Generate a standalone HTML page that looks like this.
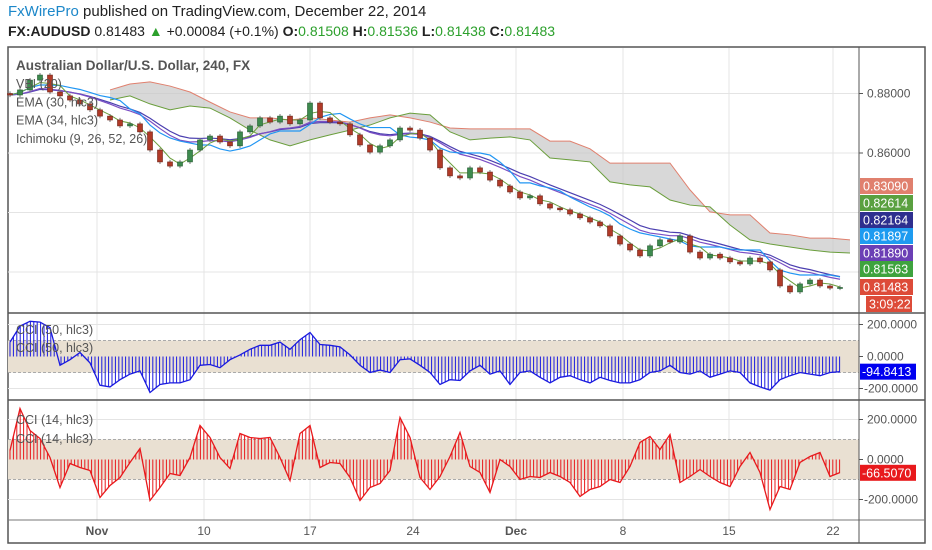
<!DOCTYPE html>
<html><head><meta charset="utf-8">
<style>
html,body{margin:0;padding:0;background:#fff;width:932px;height:550px;overflow:hidden;font-family:"Liberation Sans",sans-serif;}
#hdr1{position:absolute;left:8px;top:3px;font-size:15px;color:#222;}
#hdr1 .b{color:#1c87c9;}
#hdr2{position:absolute;left:8px;top:23px;font-size:14px;color:#222;}
#hdr2 b{font-weight:bold;}
#hdr2 .g{color:#2ca02c;}
svg{position:absolute;left:0;top:0;}
</style></head><body>
<div id="hdr1"><span class="b">FxWirePro</span> published on TradingView.com, December 22, 2014</div>
<div id="hdr2"><b>FX:AUDUSD</b> 0.81483 <span class="g">▲</span> +0.00084 (+0.1%) <b>O:</b><span class="g">0.81508</span> <b>H:</b><span class="g">0.81536</span> <b>L:</b><span class="g">0.81438</span> <b>C:</b><span class="g">0.81483</span></div>
<svg id="chart" width="932" height="550" xmlns="http://www.w3.org/2000/svg"></svg>
<script>
const closes=[0.8795,0.8812,0.8845,0.8862,0.8805,0.8792,0.8778,0.8765,0.8745,0.8724,
0.8711,0.8691,0.8698,0.8671,0.8610,0.8570,0.8556,0.8570,0.8610,0.8644,
0.8657,0.8637,0.8624,0.8671,0.8691,0.8718,0.8704,0.8724,0.8698,0.8711,
0.8768,0.8718,0.8704,0.8698,0.8661,0.8627,0.8603,0.8624,0.8644,0.8684,
0.8677,0.8650,0.8610,0.8550,0.8523,0.8516,0.8550,0.8536,0.8509,0.8489,
0.8469,0.8449,0.8456,0.8429,0.8415,0.8409,0.8395,0.8382,0.8368,0.8355,
0.8321,0.8294,0.8274,0.8254,0.8288,0.8308,0.8301,0.8321,0.8267,0.8247,
0.8260,0.8247,0.8234,0.8227,0.8247,0.8234,0.8207,0.8153,0.8133,0.8160,
0.8173,0.8153,0.8146,0.8148];
const spanB=[0.8812,0.8832,0.8839,0.8825,0.8805,0.8771,0.8738,0.8718,0.8718,0.8711,0.8718,0.8711,0.8704,0.8718,0.8728,0.8718,0.8704,0.8684,0.8681,0.8681,0.8681,0.8681,0.8640,0.8640,0.8614,0.8566,0.8566,0.8566,0.8566,0.8476,0.8402,0.8392,0.8392,0.8331,0.8325,0.8314,0.8314,0.8308];
const spanA=[0.8778,0.8792,0.8765,0.8745,0.8758,0.8751,0.8718,0.8677,0.8644,0.8624,0.8644,0.8661,0.8677,0.8694,0.8718,0.8734,0.8728,0.8671,0.8644,0.8650,0.8654,0.8644,0.8583,0.8577,0.8570,0.8503,0.8493,0.8486,0.8442,0.8425,0.8419,0.8358,0.8308,0.8294,0.8284,0.8274,0.8267,0.8264];
const cci50=[90,190,220,215,180,-55,-20,25,-40,-180,-190,-145,-110,-90,-225,-175,-165,-165,-145,-55,-50,-70,-20,10,45,70,70,90,45,105,150,75,70,60,10,-55,-100,-85,-100,-20,-15,-55,-100,-175,-145,-150,-90,-55,-110,-90,-175,-100,-90,-130,-165,-130,-120,-145,-165,-130,-150,-165,-165,-145,-100,-90,-55,-100,-110,-90,-130,-110,-90,-100,-165,-190,-210,-145,-120,-100,-110,-120,-100,-95];
const cci14=[45,255,145,105,10,-140,-20,-40,-55,-190,-130,-90,-15,55,-205,-140,-70,-80,10,170,110,10,-45,130,110,105,110,10,-105,130,170,-40,-15,-20,-90,-205,-140,-120,-55,210,110,-90,-150,-85,15,135,-35,-65,-165,0,-35,-100,-85,-90,-65,-85,-115,-185,-150,-135,-100,-115,-35,85,115,50,125,-115,-85,-50,-85,-115,-135,-35,35,-65,-250,-135,-150,-15,15,35,-85,-65];
const dateLabels=["Nov","10","17","24","Dec","8","15","22"];
const dateBold=[true,false,false,false,true,false,false,false];
const dateBars=[8.7,19.4,30,40.3,50.6,61.3,71.9,82.3];
const priceTicks=[0.88,0.86];
const priceGrid=[0.88,0.86,0.84,0.82];
const cciTicks=[200,0,-200];
const tagValues=["0.83090","0.82614","0.82164","0.81897","0.81890","0.81563","0.81483","3:09:22"];

const svg=document.getElementById('chart');
const NS='http://www.w3.org/2000/svg';
function el(tag,attrs,parent){const e=document.createElementNS(NS,tag);for(const k in attrs)e.setAttribute(k,attrs[k]);(parent||svg).appendChild(e);return e;}
const L=8,R=859,RW=925;
function xOf(i){return 10+10*i;}
function yP(p){return 93.5+(0.88-p)*2975;}
function y1(v){return 356.5-v*0.16;}
function y2(v){return 459.5-v*0.2;}
function ema(arr,n){const k=2/(n+1);let out=[];let e=arr[0];for(let i=0;i<arr.length;i++){e=i?arr[i]*k+e*(1-k):arr[i];out.push(e);}return out;}
function mid(arr,n){return arr.map((v,i)=>{const s=arr.slice(Math.max(0,i-n+1),i+1);return (Math.max(...s)+Math.min(...s))/2;});}

// frame
el('rect',{x:L,y:47,width:RW-L,height:496,fill:'#fff',stroke:'#555','stroke-width':1.5});
// grids
const grid=el('g',{stroke:'#e4e4e4','stroke-width':1});


dateBars.forEach(b=>{el('line',{x1:xOf(b),x2:xOf(b),y1:48,y2:520},grid);});
priceGrid.forEach(p=>{el('line',{x1:L,x2:R,y1:yP(p),y2:yP(p)},grid);});
[200,-200].forEach(v=>{el('line',{x1:L,x2:R,y1:y1(v),y2:y1(v)},grid);el('line',{x1:L,x2:R,y1:y2(v),y2:y2(v)},grid);});

// cloud
const cloudX=k=>110+20*k;
let poly='';
spanB.forEach((v,k)=>poly+=cloudX(k)+','+yP(v)+' ');
for(let k=spanA.length-1;k>=0;k--)poly+=cloudX(k)+','+yP(spanA[k])+' ';
const cloud=el('polygon',{points:poly,fill:'#c8c8c8','fill-opacity':0.7});


function pl(arr,xf,yf,color,w,name){const pts=arr.map((v,i)=>xf(i)+','+yf(v)).join(' ');const p=el('polyline',{points:pts,fill:'none',stroke:color,'stroke-width':w});return p;}
pl(spanB,cloudX,yP,'#e0806e',1,'cloud-span-b');
pl(spanA,cloudX,yP,'#6a9e3c',1,'cloud-span-a');
// lines
pl(ema(closes,12),xOf,yP,'#4b3fb0',1.2,'ema-34');
pl(ema(closes,10),xOf,yP,'#7b4fc4',1.2,'ema-30');
pl(mid(closes,9),xOf,yP,'#2196f3',1.2,'kijun-line');
pl(mid(closes,3),xOf,yP,'#6a9e3c',1,'tenkan-line');

// candles
const cg=el('g',{});


closes.forEach((c,i)=>{const o=i?closes[i-1]:c+0.0005;const up=c>=o;const x=xOf(i);
 const hi=Math.max(o,c)+0.0007,lo=Math.min(o,c)-0.0007;
 el('line',{x1:x,x2:x,y1:yP(hi),y2:yP(lo),stroke:'#777','stroke-width':1},cg);
 const t=yP(Math.max(o,c)),b=yP(Math.min(o,c));
 const r=el('rect',{x:x-2.5,y:t,width:5,height:Math.max(1,b-t),fill:up?'#3d8a4e':'#b03a28',stroke:up?'#245a30':'#6e2014','stroke-width':0.6},cg);
 
 
});

// CCI panes
function ccipane(data,yf,color,name){
 const band=el('rect',{x:L,y:yf(100),width:R-L,height:yf(-100)-yf(100),fill:'#e9e0d2'});
 
 
 [100,-100].forEach(v=>el('line',{x1:L,x2:R,y1:yf(v),y2:yf(v),stroke:'#aaa','stroke-dasharray':'3,2','stroke-width':1}));
 const g=el('g',{stroke:color,'stroke-width':1});
 
 
 for(let x=xOf(0);x<=xOf(data.length-1);x+=3.4){const f=(x-10)/10;const i=Math.min(Math.floor(f),data.length-2);const t=f-i;const v=data[i]*(1-t)+data[i+1]*t;
  el('line',{x1:x,x2:x,y1:yf(0),y2:yf(v)},g);}
 pl(data,xOf,yf,color,1.3,name+'-line');
}
ccipane(cci50,y1,'#1a1adf','cci-50');
ccipane(cci14,y2,'#e8191c','cci-14');

// separators
[313,400].forEach(y=>el('line',{x1:L,x2:RW,y1:y,y2:y,stroke:'#555','stroke-width':1.5}));
el('line',{x1:L,x2:RW,y1:520,y2:520,stroke:'#777','stroke-width':1});
el('line',{x1:R,x2:R,y1:47,y2:543,stroke:'#555','stroke-width':1});

function txt(s,x,y,attrs,name,inter){const t=el('text',Object.assign({x:x,y:y,'font-size':12,fill:'#555','font-family':'"Liberation Sans",sans-serif'},attrs||{}));t.textContent=s;return t;}
// price axis
priceTicks.forEach(p=>{el('line',{x1:R,x2:R+4,y1:yP(p),y2:yP(p),stroke:'#555'});txt(p.toFixed(5),R+8,yP(p)+4,{},'price-tick-label');});
const tagColors=['#e0806e','#5aa040','#2e2f8f','#1e9bf0','#6b3fb5','#3ea33e','#dd4b39','#dd4b39'];
const tagY=[186,203,220,236,253,269,287,304];
tagValues.forEach((s,k)=>{const w=k==7?46:53;const x0=k==7?866:860;
 el('rect',{x:x0,y:tagY[k]-8,width:w,height:16,fill:tagColors[k]});
 txt(s,x0+3,tagY[k]+4.5,{fill:'#fff','font-size':12.5},'price-tag');});
// cci axes
cciTicks.forEach(v=>{el('line',{x1:R,x2:R+4,y1:y1(v),y2:y1(v),stroke:'#555'});txt(v.toFixed(4),R+(v<0?5:8),y1(v)+4,{},'cci50-tick');
 el('line',{x1:R,x2:R+4,y1:y2(v),y2:y2(v),stroke:'#555'});txt(v.toFixed(4),R+(v<0?5:8),y2(v)+4,{},'cci14-tick');});
const last1=cci50[cci50.length-1],last2=cci14[cci14.length-1];
el('rect',{x:860,y:y1(-94.84)-8,width:56,height:16,fill:'#0000f0'});
txt('-94.8413',862,y1(-94.84)+4.5,{fill:'#fff','font-size':12.5},'cci50-value-tag');
el('rect',{x:860,y:y2(-66.5)-8,width:56,height:16,fill:'#e8191c'});
txt('-66.5070',862,y2(-66.5)+4.5,{fill:'#fff','font-size':12.5},'cci14-value-tag');
// date axis
dateLabels.forEach((s,k)=>txt(s,xOf(dateBars[k]),535,{'text-anchor':'middle','font-weight':dateBold[k]?'bold':'normal'},'date-label'));
// legends
txt('Australian Dollar/U.S. Dollar, 240, FX',16,70,{'font-size':13.5,'font-weight':'bold',fill:'#555'},'chart-title');
['VBI (20)','EMA (30, hlc3)','EMA (34, hlc3)','Ichimoku (9, 26, 52, 26)'].forEach((s,k)=>txt(s,16,88+k*18.3,{'font-size':12.5},'legend-entry',true));
txt('CCI (50, hlc3)',16,334,{'font-size':12.5},'cci50-legend',true);
txt('CCI (50, hlc3)',16,352,{'font-size':12.5},'cci50-legend-2',true);
txt('CCI (14, hlc3)',16,424,{'font-size':12.5},'cci14-legend',true);
txt('CCI (14, hlc3)',16,443,{'font-size':12.5},'cci14-legend-2',true);
</script>
</body></html>
